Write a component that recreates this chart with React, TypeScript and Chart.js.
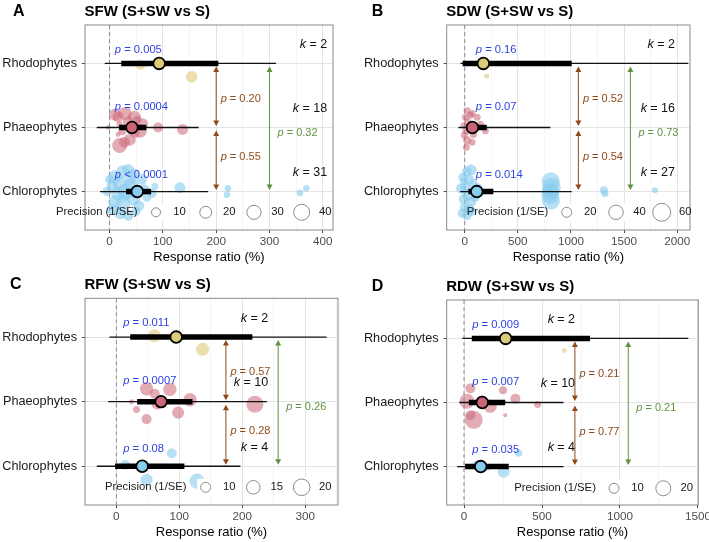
import React, { useEffect, useRef } from 'react';
import { Chart, registerables } from 'chart.js';

Chart.register(...registerables);

const FONT = '"Liberation Sans", Arial, Helvetica, sans-serif';

const groups = ['Rhodophytes', 'Phaeophytes', 'Chlorophytes'];
const groupFill = ['#DDCC77', '#CC6677', '#88CCEE'];
const groupPointFill = ['rgba(221,204,119,0.6)', 'rgba(204,102,119,0.55)', 'rgba(136,204,238,0.6)'];

type Pt = [number, number, number]; // [response ratio %, precision 1/SE, vertical jitter]
type Pair = { x: number; from: number; to: number; p: string };

// ---- A: shoot fresh weight ----
const sfwMean = [93, 42, 52];
const sfwCI = [[22, 204], [18, 69], [31, 78]];
const sfwPI = [[-9, 312], [-24, 167], [-18, 185]];
const sfwP = ['= 0.005', '= 0.0004', '< 0.0001'];
const sfwK = [2, 18, 31];
const sfwTicks = [0, 100, 200, 300, 400];
const sfwSizeBreaks = [10, 20, 30, 40];
const sfwPairs: Pair[] = [
  { x: 200, from: 0, to: 1, p: '0.20' },
  { x: 200, from: 1, to: 2, p: '0.55' },
  { x: 300, from: 0, to: 2, p: '0.32' },
];
const sfwRho: Pt[] = [[58, 13, -0.02], [154, 18.7, -0.21]];
const sfwPha: Pt[] = [
  [-3, 1.2, 0], [10, 20.3, 0.2], [16, 16, 0.17], [29, 24.5, 0.22], [47, 24.5, 0.16], [19, 3.3, 0.05],
  [35, 16, 0.09], [57, 29, -0.05], [62, 16.4, 0.06], [91, 13, 0], [137, 16.4, -0.03], [16, 1.8, -0.11],
  [38, 20.3, -0.19], [19, 34.3, -0.28], [28, 16, -0.23], [48, 9.9, -0.09], [52, 7.3, 0.12], [24, 7.3, -0.06],
];
const sfwChl: Pt[] = [
  [222, 4.3, 0.05], [220, 4.3, -0.05], [357, 4.3, -0.02], [369, 4.3, 0.05], [132, 16.4, 0.06],
  [10, 24.5, 0.23], [25, 24.5, 0.31], [35, 18, 0.34], [45, 16, 0.28], [60, 16, 0.19], [5, 18, 0.08],
  [20, 32, 0.12], [40, 32, 0.09], [-5, 9.9, 0], [15, 24.5, -0.03], [30, 39.8, 0], [65, 16, 0.03],
  [80, 9.9, -0.03], [10, 24.5, -0.16], [25, 32, -0.19], [45, 24.5, -0.12], [55, 16, -0.22], [5, 16, -0.28],
  [20, 20.3, -0.34], [35, 16, -0.37], [50, 9.9, -0.31], [70, 9.9, -0.09], [0, 9.9, 0.19], [85, 5.1, 0.08],
  [28, 16, -0.06], [40, 16, 0.19],
];

// ---- B: shoot dry weight ----
const sdwMean = [175, 72, 113];
const sdwCI = [[-20, 1007], [19, 207], [34, 269]];
const sdwPI = [[-40, 2105], [-60, 806], [-44, 1007]];
const sdwP = ['= 0.16', '= 0.07', '= 0.014'];
const sdwK = [2, 16, 27];
const sdwTicks = [0, 500, 1000, 1500, 2000];
const sdwSizeBreaks = [20, 40, 60];
const sdwPairs: Pair[] = [
  { x: 1070, from: 0, to: 1, p: '0.52' },
  { x: 1070, from: 1, to: 2, p: '0.54' },
  { x: 1560, from: 0, to: 2, p: '0.73' },
];
const sdwRho: Pt[] = [[207, 5.9, -0.2], [150, 8.1, 0.02]];
const sdwPha: Pt[] = [
  [22, 10.6, 0.26], [69, 10.6, 0.22], [6, 10.6, 0.16], [116, 10.6, 0.16], [28, 13.4, 0.08], [147, 10.6, 0.05],
  [194, 10.6, -0.05], [15, 13.4, -0.05], [-4, 10.6, -0.12], [81, 10.6, -0.11], [22, 13.4, -0.2], [69, 10.6, -0.23],
  [15, 10.6, -0.31], [116, 10.6, 0], [-10, 8.1, 0.03], [53, 10.6, 0.19],
];
const sdwChl: Pt[] = [
  [1310, 13.4, 0.02], [1320, 10.6, -0.03], [1790, 8.1, 0.02], [810, 60.2, 0.16], [815, 66.8, 0.06],
  [805, 60.2, -0.05], [812, 60.2, -0.14], [808, 54, 0], [20, 20.1, 0.31], [60, 23.9, 0.34], [-20, 16.6, 0.22],
  [40, 20.1, 0.19], [80, 16.6, 0.12], [-35, 20.1, 0.05], [10, 23.9, 0.06], [120, 16.6, 0.06], [30, 28.1, -0.05],
  [-10, 20.1, -0.12], [60, 20.1, -0.16], [100, 16.6, -0.09], [0, 20.1, -0.25], [40, 23.9, -0.28],
  [-25, 16.6, -0.34], [20, 20.1, -0.37], [140, 13.4, -0.03], [-5, 13.4, 0.16], [70, 16.6, -0.31],
];

// ---- C: root fresh weight ----
const rfwMean = [95, 71, 41];
const rfwCI = [[22, 216], [33, 121], [-2, 108]];
const rfwPI = [[-11, 334], [-13, 239], [-31, 197]];
const rfwP = ['= 0.011', '= 0.0007', '= 0.08'];
const rfwK = [2, 10, 4];
const rfwTicks = [0, 100, 200, 300];
const rfwSizeBreaks = [10, 15, 20];
const rfwPairs: Pair[] = [
  { x: 174, from: 0, to: 1, p: '0.57' },
  { x: 174, from: 1, to: 2, p: '0.28' },
  { x: 257, from: 0, to: 2, p: '0.26' },
];
const rfwRho: Pt[] = [[60, 14.1, 0.02], [137, 14.1, -0.19]];
const rfwPha: Pt[] = [
  [48, 14.7, 0.2], [85, 14.7, 0.19], [61, 10, 0.12], [117, 14.7, 0.03], [24, 4.7, 0],
  [32, 6.6, -0.12], [48, 10, -0.27], [98, 12.7, -0.17], [220, 20.7, -0.04], [65, 12.7, -0.03],
];
const rfwChl: Pt[] = [[14, 10, 0.02], [88, 10, 0.2], [48, 12.7, -0.21], [128, 17.3, -0.23]];

// ---- D: root dry weight ----
const rdwMean = [267, 117, 107];
const rdwCI = [[50, 808], [31, 264], [7, 287]];
const rdwPI = [[-11, 1438], [-30, 638], [-44, 638]];
const rdwP = ['= 0.009', '= 0.007', '= 0.035'];
const rdwK = [2, 10, 4];
const rdwTicks = [0, 500, 1000, 1500];
const rdwSizeBreaks = [10, 20];
const rdwPairs: Pair[] = [
  { x: 711, from: 0, to: 1, p: '0.21' },
  { x: 711, from: 1, to: 2, p: '0.77' },
  { x: 1053, from: 0, to: 2, p: '0.21' },
];
const rdwRho: Pt[] = [[643, 3.1, -0.19], [250, 4.5, 0.02]];
const rdwPha: Pt[] = [
  [41, 10, 0.22], [250, 7, 0.19], [19, 20, 0.02], [329, 10, 0.06], [472, 5.7, -0.03],
  [168, 15.6, -0.06], [41, 10, -0.2], [265, 2.5, -0.2], [62, 27.6, -0.27], [110, 10, 0.03],
];
const rdwChl: Pt[] = [[350, 6.2, 0.21], [254, 13.6, -0.08], [80, 7, 0.03], [150, 4.5, -0.02]];

interface PanelSpec {
  letter: string;
  title: string;
  xMin: number;
  xMax: number;
  ticks: number[];
  minorStep: number;
  mean: number[];
  ci: number[][];
  pi: number[][];
  points: Pt[][];
  pText: string[];
  k: number[];
  pairs: Pair[];
  sizeBreaks: number[];
  pLabelX: number;
  kLabelX: number;
  box: { x: number; y: number; w: number; h: number };
  area: { l: number; t: number; r: number; b: number };
  letterX: number;
  headY: number;
  legend: { x: number; y: number; keys: number[] };
  size: { a: number; b: number };
}

const panels: PanelSpec[] = [
  {
    letter: 'A', title: 'SFW (S+SW vs S)', xMin: -46, xMax: 419, ticks: sfwTicks, minorStep: 50,
    mean: sfwMean, ci: sfwCI, pi: sfwPI, points: [sfwRho, sfwPha, sfwChl], pText: sfwP, k: sfwK,
    pairs: sfwPairs, sizeBreaks: sfwSizeBreaks, pLabelX: 10, kLabelX: 408,
    box: { x: 0, y: 0, w: 354, h: 270 }, area: { l: 85, t: 25, r: 333, b: 230 },
    letterX: 13, headY: 12, legend: { x: 56, y: 212.3, keys: [156, 205.7, 254, 301.7] },
    size: { a: 1, b: 1.11 },
  },
  {
    letter: 'B', title: 'SDW (S+SW vs S)', xMin: -170, xMax: 2121, ticks: sdwTicks, minorStep: 250,
    mean: sdwMean, ci: sdwCI, pi: sdwPI, points: [sdwRho, sdwPha, sdwChl], pText: sdwP, k: sdwK,
    pairs: sdwPairs, sizeBreaks: sdwSizeBreaks, pLabelX: 104, kLabelX: 1980,
    box: { x: 355, y: 0, w: 354, h: 270 }, area: { l: 91.7, t: 25, r: 335, b: 230 },
    letterX: 16.7, headY: 12, legend: { x: 111.7, y: 212.3, keys: [211.7, 261, 306.7] },
    size: { a: -0.47, b: 1.22 },
  },
  {
    letter: 'C', title: 'RFW (S+SW vs S)', xMin: -49.8, xMax: 352, ticks: rfwTicks, minorStep: 50,
    mean: rfwMean, ci: rfwCI, pi: rfwPI, points: [rfwRho, rfwPha, rfwChl], pText: rfwP, k: rfwK,
    pairs: rfwPairs, sizeBreaks: rfwSizeBreaks, pLabelX: 11, kLabelX: 241,
    box: { x: 0, y: 270, w: 354, h: 272 }, area: { l: 85, t: 28.3, r: 338, b: 235 },
    letterX: 10, headY: 15, legend: { x: 105, y: 217.3, keys: [205.7, 253.3, 301.7] },
    size: { a: -2.97, b: 2.52 },
  },
  {
    letter: 'D', title: 'RDW (S+SW vs S)', xMin: -111, xMax: 1502, ticks: rdwTicks, minorStep: 250,
    mean: rdwMean, ci: rdwCI, pi: rdwPI, points: [rdwRho, rdwPha, rdwChl], pText: rdwP, k: rdwK,
    pairs: rdwPairs, sizeBreaks: rdwSizeBreaks, pLabelX: 53, kLabelX: 712,
    box: { x: 355, y: 270, w: 354, h: 272 }, area: { l: 91.7, t: 30, r: 343.3, b: 235 },
    letterX: 16.7, headY: 16.7, legend: { x: 159.3, y: 218.3, keys: [259, 308.3] },
    size: { a: -1.04, b: 1.91 },
  },
];

const BROWN = '#8E4A1A';
const GREEN = '#5E9440';
const BLUE = '#2E44E0';

function richText(
  ctx: CanvasRenderingContext2D,
  parts: [string, boolean][],
  x: number,
  y: number,
  size: number,
  color: string,
  align: 'left' | 'right' | 'center',
  weight = ''
) {
  ctx.save();
  ctx.fillStyle = color;
  ctx.textBaseline = 'middle';
  ctx.textAlign = 'left';
  const fonts = parts.map(([, it]) => `${it ? 'italic ' : ''}${weight}${size}px ${FONT}`);
  const widths = parts.map(([t], i) => {
    ctx.font = fonts[i];
    return ctx.measureText(t).width;
  });
  const total = widths.reduce((a, b) => a + b, 0);
  let cx = align === 'left' ? x : align === 'right' ? x - total : x - total / 2;
  parts.forEach(([t], i) => {
    ctx.font = fonts[i];
    ctx.fillText(t, cx, y);
    cx += widths[i];
  });
  ctx.restore();
}

function drawArrow(ctx: CanvasRenderingContext2D, x: number, y1: number, y2: number, color: string) {
  const head = 5.5;
  const hw = 3;
  ctx.save();
  ctx.strokeStyle = color;
  ctx.fillStyle = color;
  ctx.lineWidth = 1;
  ctx.beginPath();
  ctx.moveTo(x, y1 + head - 0.5);
  ctx.lineTo(x, y2 - head + 0.5);
  ctx.stroke();
  ctx.beginPath();
  ctx.moveTo(x, y1);
  ctx.lineTo(x - hw, y1 + head);
  ctx.lineTo(x + hw, y1 + head);
  ctx.closePath();
  ctx.fill();
  ctx.beginPath();
  ctx.moveTo(x, y2);
  ctx.lineTo(x - hw, y2 - head);
  ctx.lineTo(x + hw, y2 - head);
  ctx.closePath();
  ctx.fill();
  ctx.restore();
}

function buildConfig(spec: PanelSpec): any {
  const rowY = (i: number) => 3 - i;
  const radius = (p: number) => spec.size.a + spec.size.b * Math.sqrt(p);
  const minors: number[] = [];
  for (let v = Math.ceil(spec.xMin / spec.minorStep) * spec.minorStep; v <= spec.xMax; v += spec.minorStep) {
    if (!spec.ticks.includes(v)) minors.push(v);
  }
  const xTickValues = [...spec.ticks, ...minors].sort((a, b) => a - b);
  const isMajor = (v: number) => spec.ticks.includes(v);

  const datasets: any[] = [];
  datasets.push({
    type: 'scatter',
    data: spec.mean.map((m, i) => ({ x: m, y: rowY(i) })),
    pointRadius: 5.8,
    pointBackgroundColor: groupFill,
    pointBorderColor: '#000',
    pointBorderWidth: 1.8,
    order: 0,
  });
  spec.ci.forEach(([lo, hi], i) =>
    datasets.push({
      type: 'line',
      data: [{ x: lo, y: rowY(i) }, { x: hi, y: rowY(i) }],
      borderColor: '#000',
      borderWidth: 5.5,
      borderCapStyle: 'butt',
      pointRadius: 0,
      fill: false,
      order: 1,
    })
  );
  spec.pi.forEach(([lo, hi], i) =>
    datasets.push({
      type: 'line',
      data: [{ x: lo, y: rowY(i) }, { x: hi, y: rowY(i) }],
      borderColor: '#111',
      borderWidth: 1.3,
      borderCapStyle: 'butt',
      pointRadius: 0,
      fill: false,
      order: 2,
    })
  );
  spec.points.forEach((pts, i) =>
    datasets.push({
      type: 'scatter',
      data: pts.map(([v, , j]) => ({ x: v, y: rowY(i) + j })),
      pointRadius: pts.map(([, p]) => radius(p)),
      pointBackgroundColor: groupPointFill[i],
      pointBorderColor: 'rgba(0,0,0,0)',
      pointBorderWidth: 0,
      order: 3,
    })
  );

  const decor = {
    id: 'orchardDecor',
    beforeDatasetsDraw(chart: any) {
      const { ctx, chartArea: a, scales } = chart;
      const x0 = scales.x.getPixelForValue(0);
      ctx.save();
      ctx.strokeStyle = '#8a8a8a';
      ctx.lineWidth = 1;
      ctx.setLineDash([4, 3]);
      ctx.beginPath();
      ctx.moveTo(x0, a.top);
      ctx.lineTo(x0, a.bottom);
      ctx.stroke();
      ctx.restore();
    },
    afterDatasetsDraw(chart: any) {
      const { ctx, chartArea: a, scales } = chart;
      const xs = scales.x;
      const ys = scales.y;
      const rowPx = (i: number) => ys.getPixelForValue(rowY(i));

      // pairwise comparison arrows
      spec.pairs.forEach((pr) => {
        const span = pr.to - pr.from;
        const color = span === 2 ? GREEN : BROWN;
        const x = xs.getPixelForValue(pr.x);
        const y1 = rowPx(pr.from) + 3;
        const y2 = rowPx(pr.to) - 1.5;
        drawArrow(ctx, x, y1, y2, color);
        let ly = (rowPx(pr.from) + rowPx(pr.to)) / 2;
        if (span === 2) ly = rowPx(1) + 5;
        else ly += pr.from === 0 ? 3 : -3;
        richText(ctx, [['p', true], [' = ' + pr.p, false]], x + (span === 2 ? 8 : 4.5), ly, 11, color, 'left');
      });

      // per-group p-values and k
      const pOffsets = [-14, -20.5, -17];
      groups.forEach((_, i) => {
        richText(ctx, [['p', true], [' ' + spec.pText[i], false]], xs.getPixelForValue(spec.pLabelX), rowPx(i) + pOffsets[i], 11.2, BLUE, 'left');
        richText(ctx, [['k', true], [' = ' + spec.k[i], false]], xs.getPixelForValue(spec.kLabelX), rowPx(i) - 18.7, 12.5, '#111', 'right');
      });

      // panel border
      ctx.save();
      ctx.strokeStyle = '#8a8a8a';
      ctx.lineWidth = 1;
      ctx.strokeRect(a.left, a.top, a.right - a.left, a.bottom - a.top);
      ctx.restore();
    },
    afterDraw(chart: any) {
      const { ctx, chartArea: a } = chart;
      // precision legend
      const lg = spec.legend;
      richText(ctx, [['Precision (1/SE)', false]], lg.x, lg.y, 11.3, '#1a1a1a', 'left');
      spec.sizeBreaks.forEach((b, i) => {
        const r = radius(b);
        const kx = lg.keys[i];
        const s = Math.max(17, 2 * r + 4);
        ctx.save();
        ctx.fillStyle = '#fff';
        ctx.fillRect(kx - s / 2, lg.y - s / 2, s, s);
        ctx.beginPath();
        ctx.arc(kx, lg.y, r, 0, Math.PI * 2);
        ctx.fill();
        ctx.strokeStyle = '#8c8c8c';
        ctx.lineWidth = 1;
        ctx.stroke();
        ctx.restore();
        richText(ctx, [[String(b), false]], kx + 23.5, lg.y, 11.3, '#1a1a1a', 'center');
      });
      // headings
      richText(ctx, [[spec.letter, false]], spec.letterX, spec.headY, 16, '#000', 'left', 'bold ');
      richText(ctx, [[spec.title, false]], a.left - 0.5, spec.headY, 15, '#000', 'left', 'bold ');
      // x-axis title
      richText(ctx, [['Response ratio (%)', false]], (a.left + a.right) / 2, a.bottom + 27, 13, '#000', 'center');
    },
  };

  return {
    type: 'scatter',
    data: { datasets },
    options: {
      responsive: false,
      maintainAspectRatio: false,
      animation: false,
      devicePixelRatio: 1,
      events: [],
      layout: {
        padding: { left: 0, top: spec.area.t, right: spec.box.w - spec.area.r, bottom: 0 },
      },
      plugins: { legend: { display: false }, tooltip: { enabled: false } },
      scales: {
        x: {
          type: 'linear',
          min: spec.xMin,
          max: spec.xMax,
          border: { display: false },
          afterBuildTicks: (scale: any) => {
            scale.ticks = xTickValues.map((v) => ({ value: v }));
          },
          afterFit: (scale: any) => {
            scale.height = spec.box.h - spec.area.b;
            scale.paddingLeft = 0;
            scale.paddingRight = 0;
          },
          grid: {
            color: (c: any) => (c.tick && isMajor(c.tick.value) ? '#e3e3e3' : '#efefef'),
            lineWidth: (c: any) => (c.tick && isMajor(c.tick.value) ? 1 : 0.6),
            tickColor: (c: any) => (c.tick && isMajor(c.tick.value) ? '#444' : 'rgba(0,0,0,0)'),
            tickLength: 3,
            drawTicks: true,
          },
          ticks: {
            autoSkip: false,
            maxRotation: 0,
            padding: 2,
            color: '#4d4d4d',
            font: { family: FONT, size: 11.7 },
            callback: (v: any) => (isMajor(Number(v)) ? String(v) : ''),
          },
        },
        y: {
          type: 'linear',
          min: 0.4,
          max: 3.6,
          border: { display: false },
          afterBuildTicks: (scale: any) => {
            scale.ticks = [1, 2, 3].map((v) => ({ value: v }));
          },
          afterFit: (scale: any) => {
            scale.width = spec.area.l;
            scale.paddingTop = 0;
            scale.paddingBottom = 0;
          },
          grid: { color: '#e3e3e3', lineWidth: 1, tickColor: '#444', tickLength: 3 },
          ticks: {
            padding: 5,
            color: '#1a1a1a',
            font: { family: FONT, size: 12.7 },
            callback: (v: any) => groups[3 - Number(v)] ?? '',
          },
        },
      },
    },
    plugins: [decor],
  };
}

function OrchardPanel({ spec }: { spec: PanelSpec }) {
  const ref = useRef<HTMLCanvasElement | null>(null);
  useEffect(() => {
    const canvas = ref.current;
    if (!canvas) return;
    const chart = new Chart(canvas, buildConfig(spec));
    return () => chart.destroy();
  }, [spec]);
  const { box } = spec;
  return (
    <canvas
      ref={ref}
      width={box.w}
      height={box.h}
      style={{ position: 'absolute', left: box.x, top: box.y, width: box.w, height: box.h }}
    />
  );
}

export default function App() {
  return (
    <div
      style={{
        position: 'absolute',
        left: 0,
        top: 0,
        width: 709,
        height: 542,
        background: '#fff',
        overflow: 'hidden',
      }}
    >
      {panels.map((p) => (
        <OrchardPanel key={p.letter} spec={p} />
      ))}
    </div>
  );
}
